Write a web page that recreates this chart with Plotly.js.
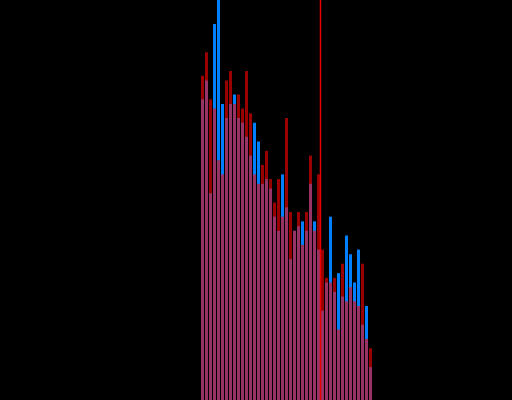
<!DOCTYPE html>
<html>
<head>
<meta charset="utf-8">
<script src="https://cdn.plot.ly/plotly-3.0.1.min.js"></script>
<style>
  html, body { margin: 0; padding: 0; background: #000; }
  #chart { width: 512px; height: 400px; }
</style>
</head>
<body>
<div id="chart"></div>
<script>
// Bin centres (one unit per bin) and the counts of the two overlaid samples
const bins = [0,1,2,3,4,5,6,7,8,9,10,11,12,13,14,15,16,17,18,19,20,21,22,23,24,25,26,27,28,29,30,31,32,33,34,35,36,37,38,39,40,41,42];
const blueCounts = [64,68,44,80,88,63,60,63,65,60,59,56,52,59,55,46,47,45,39,36,48,41,30,36,37,38,36,46,38,32,19,25,39,23,27,22,35,31,25,32,16,20,7];
const redCounts  = [69,74,64,62,51,48,68,70,63,65,62,70,61,48,46,50,53,47,42,47,39,60,40,36,40,33,40,52,36,48,32,26,25,26,15,29,21,24,21,20,29,13,11];
// Position of the reference line (bin edge)
const markerX = 29.5;

const traces = [
  {
    type: 'bar', x: bins, y: blueCounts, name: 'blue',
    marker: { color: 'rgb(0,128,255)', line: { width: 0 } },
    opacity: 1, hoverinfo: 'skip'
  },
  {
    type: 'bar', x: bins, y: redCounts, name: 'red',
    marker: { color: 'rgb(255,0,0)', line: { width: 0 } },
    opacity: 0.6, hoverinfo: 'skip'
  }
];

const hiddenAxis = {
  showgrid: false, zeroline: false, showticklabels: false,
  showline: false, ticks: ''
};

const layout = {
  width: 512, height: 400,
  margin: { l: 0, r: 0, t: 0, b: 0, pad: 0 },
  paper_bgcolor: '#000000', plot_bgcolor: '#000000',
  barmode: 'overlay', bargap: 0.25,
  showlegend: false,
  xaxis: Object.assign({ range: [-50.625, 77.375] }, hiddenAxis),
  yaxis: Object.assign({ range: [0, 85.1] }, hiddenAxis),
  shapes: [{
    type: 'line', xref: 'x', yref: 'paper',
    x0: markerX, x1: markerX, y0: 0, y1: 1,
    line: { color: 'rgb(230,0,0)', width: 1.5 }
  }]
};

Plotly.newPlot('chart', traces, layout, { staticPlot: true, displayModeBar: false });
</script>
</body>
</html>
